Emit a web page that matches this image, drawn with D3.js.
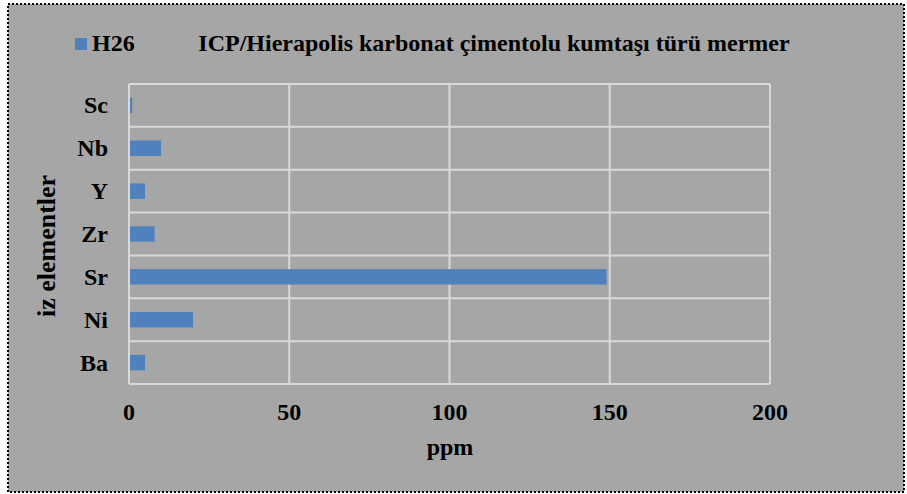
<!DOCTYPE html>
<html><head><meta charset="utf-8">
<script src="https://cdn.jsdelivr.net/npm/d3@7"></script>
<style>
html,body{margin:0;padding:0;background:#fff;}
svg{display:block;}
text{font-family:"Liberation Serif","Times New Roman",serif;font-weight:bold;fill:#000;}
</style></head>
<body>
<script>
const categories = ["Ba","Ni","Sr","Zr","Y","Nb","Sc"];
const values = [5,20,149,8,5,10,1];
const xTicks = [0,50,100,150,200];
const seriesName = "H26";
const title = "ICP/Hierapolis karbonat çimentolu kumtaşı türü mermer";
const xTitle = "ppm";
const yTitle = "iz elementler";

const W=907,H=494;
const svg=d3.select("body").append("svg").attr("width",W).attr("height",H);
svg.append("rect").attr("x",0).attr("y",0).attr("width",W).attr("height",H).attr("fill","#fff");
svg.append("rect").attr("x",8).attr("y",4).attr("width",896).attr("height",488)
  .attr("fill","#a6a6a6").attr("stroke","#000").attr("stroke-width",2).attr("stroke-dasharray","2,2");

const m={l:129,r:770,t:84,b:384};
const x=d3.scaleLinear().domain([0,200]).range([m.l,m.r]);
const y=d3.scaleBand().domain(categories.slice().reverse()).range([m.t,m.b]).paddingInner(0.64).paddingOuter(0.32);
const yb=d3.scaleBand().domain(categories.slice().reverse()).range([m.t,m.b]);

const g=svg.append("g");
g.selectAll("line.v").data(xTicks).enter().append("line")
 .attr("x1",d=>x(d)).attr("x2",d=>x(d)).attr("y1",m.t).attr("y2",m.b)
 .attr("stroke","#d9d9d9").attr("stroke-width",2);
const hl=[m.t].concat(categories.map(c=>yb(c)+yb.bandwidth()));
g.selectAll("line.h").data(hl).enter().append("line")
 .attr("x1",m.l).attr("x2",m.r).attr("y1",d=>d).attr("y2",d=>d)
 .attr("stroke","#d9d9d9").attr("stroke-width",2);

g.selectAll("rect.bar").data(categories).enter().append("rect")
 .attr("x",x(0)+1).attr("y",c=>y(c))
 .attr("width",(c,i)=>Math.max(0,x(values[i])-x(0)-1)).attr("height",y.bandwidth())
 .attr("fill","#4f81bd");

g.selectAll("text.yl").data(categories).enter().append("text")
 .attr("x",108).attr("y",c=>yb(c)+yb.bandwidth()/2+8)
 .attr("text-anchor","end").attr("font-size",24).text(c=>c);
g.selectAll("text.xl").data(xTicks).enter().append("text")
 .attr("x",d=>x(d)).attr("y",420).attr("text-anchor","middle").attr("font-size",24).text(d=>d);

svg.append("text").attr("x",450).attr("y",455).attr("text-anchor","middle").attr("font-size",24).text(xTitle);
svg.append("text").attr("transform","translate(55,246) rotate(-90)")
 .attr("text-anchor","middle").attr("font-size",26).text(yTitle);

svg.append("rect").attr("x",75).attr("y",38).attr("width",12).attr("height",12).attr("fill","#4f81bd");
svg.append("text").attr("x",92).attr("y",51).attr("font-size",24).text(seriesName);
svg.append("text").attr("x",494).attr("y",51).attr("text-anchor","middle").attr("font-size",24).text(title);
</script>
</body></html>
